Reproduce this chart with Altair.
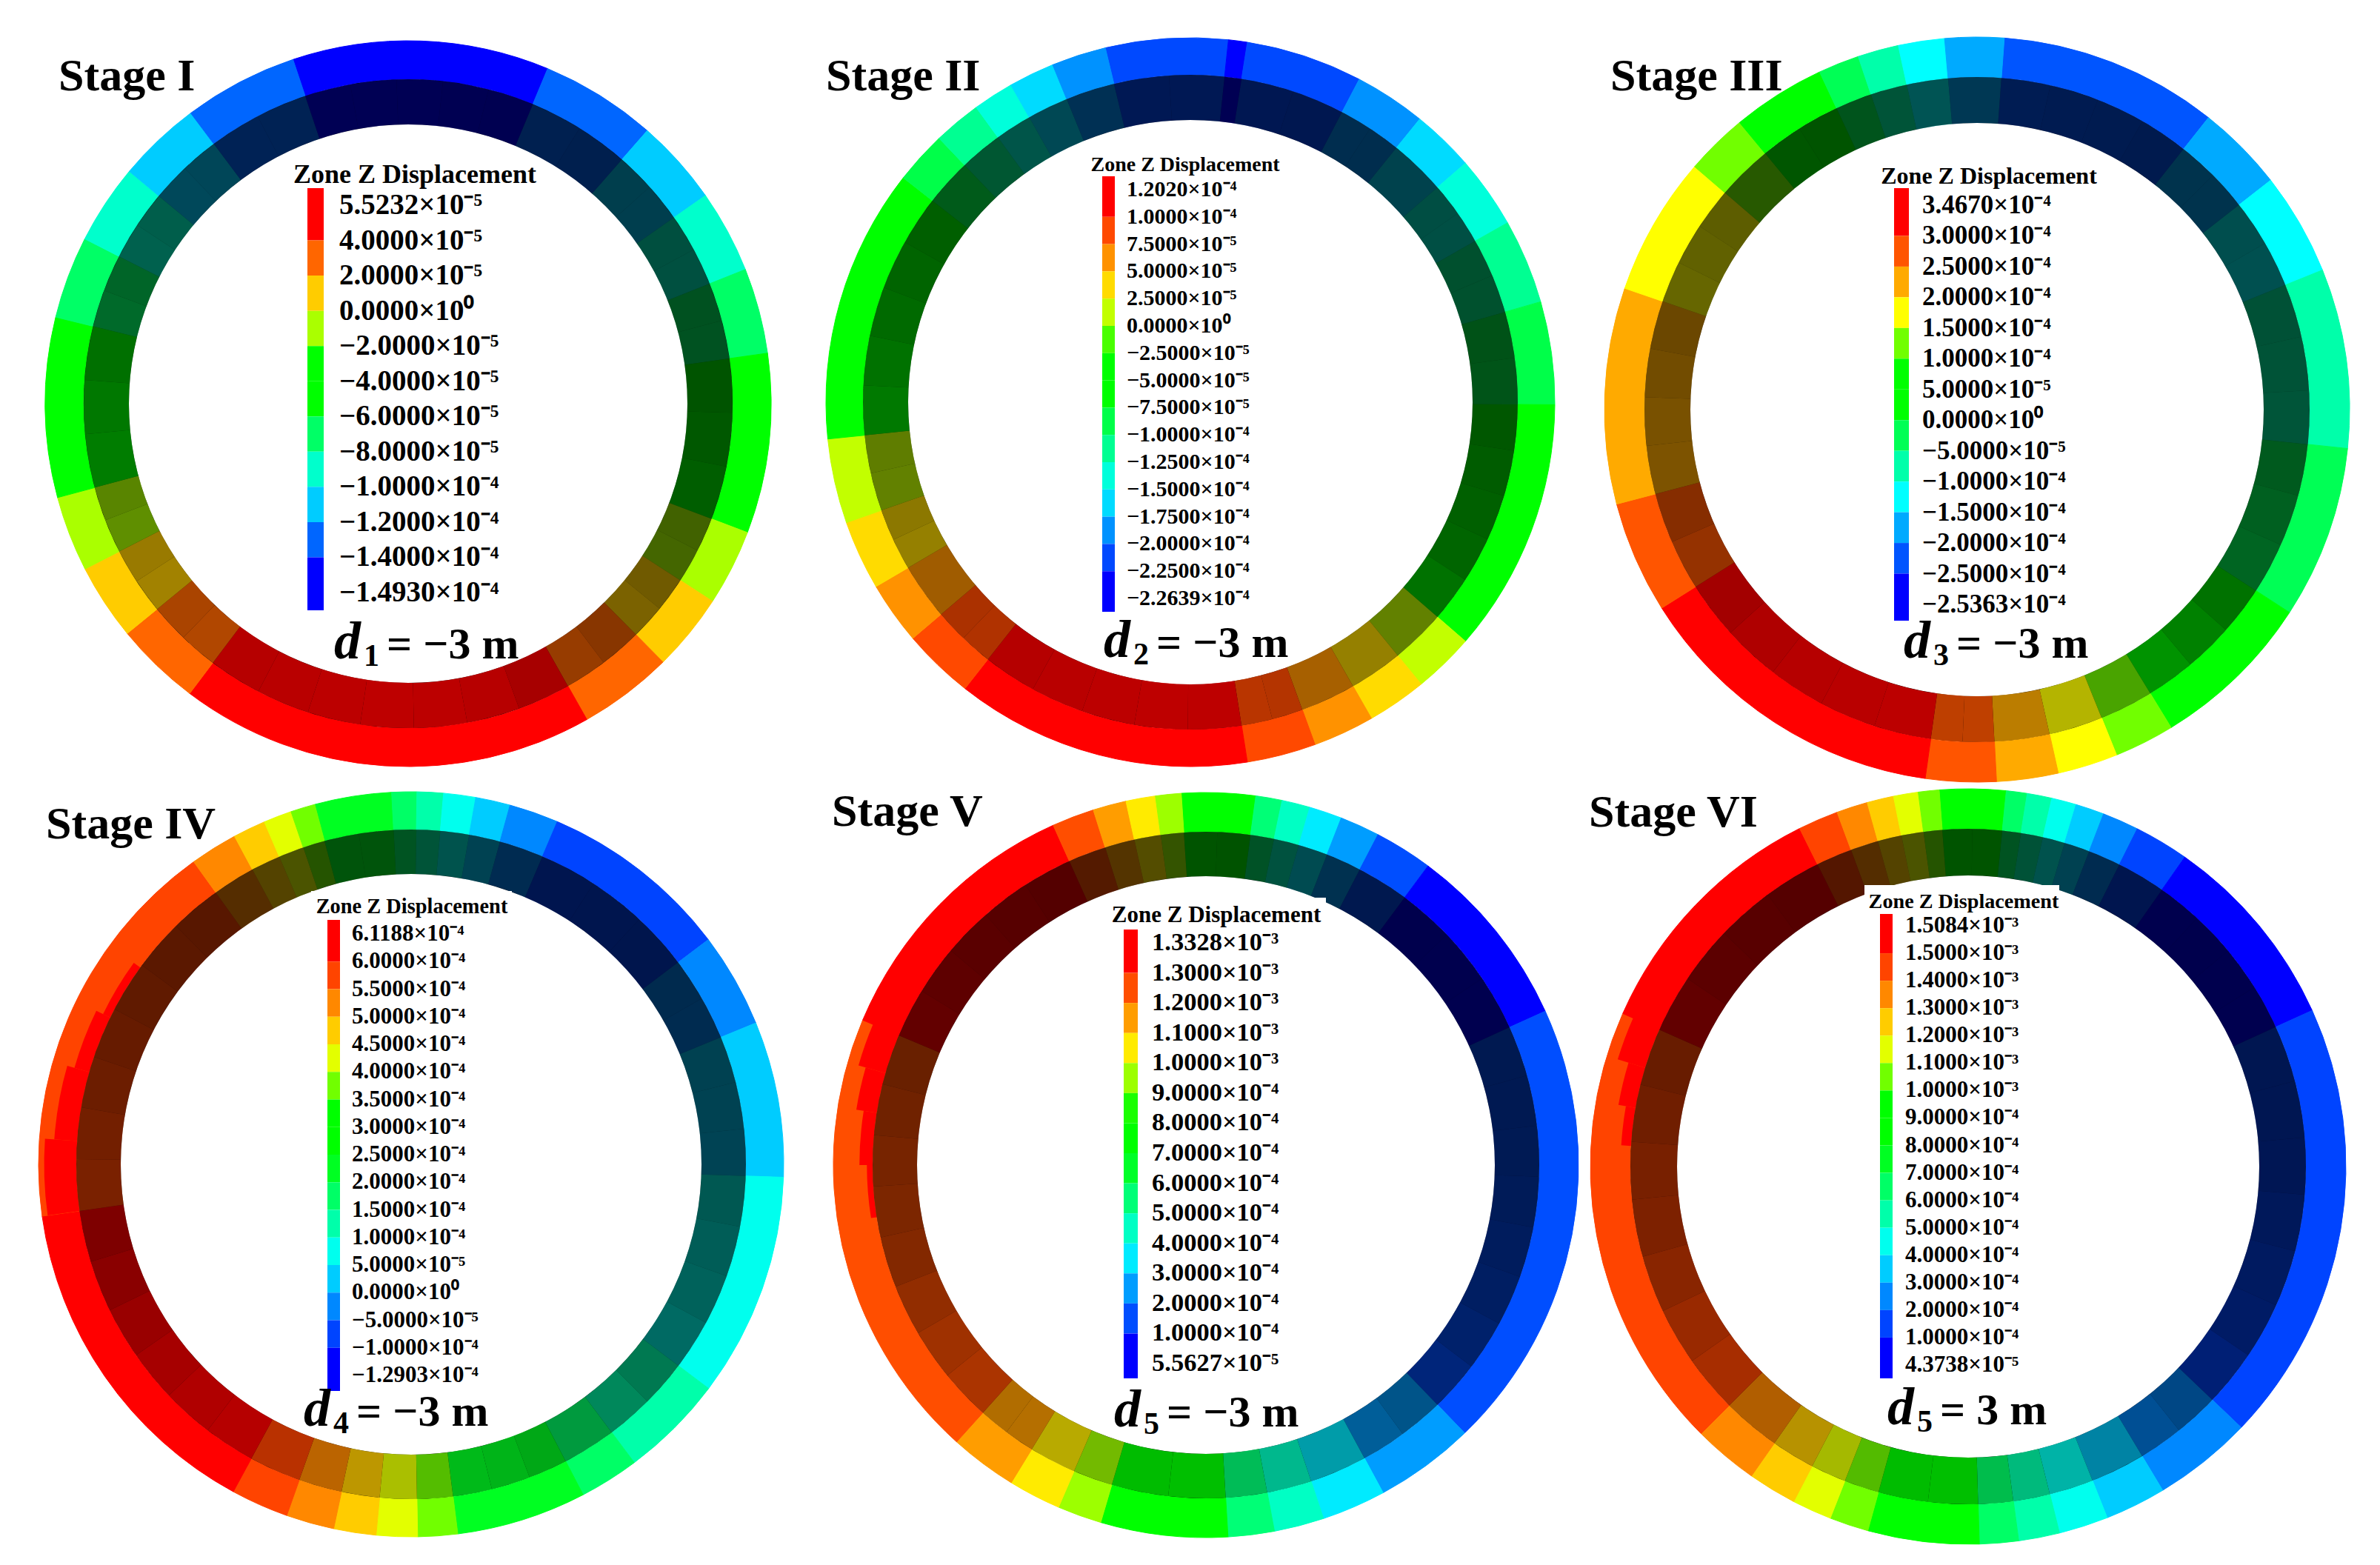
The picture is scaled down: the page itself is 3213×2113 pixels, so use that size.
import altair as alt
import numpy as np
import pandas as pd

STAGES = ["Stage I", "Stage II", "Stage III", "Stage IV", "Stage V", "Stage VI"]
SUBS = ["1", "2", "3", "4", "5", "5"]
RESTS = ["= \u22123 m", "= \u22123 m", "= \u22123 m", "= \u22123 m", "= \u22123 m", "= 3 m"]

LABELS_1 = ["5.5232×10⁻⁵", "4.0000×10⁻⁵", "2.0000×10⁻⁵", "0.0000×10⁰", "−2.0000×10⁻⁵", "−4.0000×10⁻⁵",
            "−6.0000×10⁻⁵", "−8.0000×10⁻⁵", "−1.0000×10⁻⁴", "−1.2000×10⁻⁴", "−1.4000×10⁻⁴", "−1.4930×10⁻⁴"]
LABELS_2 = ["1.2020×10⁻⁴", "1.0000×10⁻⁴", "7.5000×10⁻⁵", "5.0000×10⁻⁵", "2.5000×10⁻⁵", "0.0000×10⁰",
            "−2.5000×10⁻⁵", "−5.0000×10⁻⁵", "−7.5000×10⁻⁵", "−1.0000×10⁻⁴", "−1.2500×10⁻⁴", "−1.5000×10⁻⁴",
            "−1.7500×10⁻⁴", "−2.0000×10⁻⁴", "−2.2500×10⁻⁴", "−2.2639×10⁻⁴"]
LABELS_3 = ["3.4670×10⁻⁴", "3.0000×10⁻⁴", "2.5000×10⁻⁴", "2.0000×10⁻⁴", "1.5000×10⁻⁴", "1.0000×10⁻⁴",
            "5.0000×10⁻⁵", "0.0000×10⁰", "−5.0000×10⁻⁵", "−1.0000×10⁻⁴", "−1.5000×10⁻⁴", "−2.0000×10⁻⁴",
            "−2.5000×10⁻⁴", "−2.5363×10⁻⁴"]
LABELS_4 = ["6.1188×10⁻⁴", "6.0000×10⁻⁴", "5.5000×10⁻⁴", "5.0000×10⁻⁴", "4.5000×10⁻⁴", "4.0000×10⁻⁴",
            "3.5000×10⁻⁴", "3.0000×10⁻⁴", "2.5000×10⁻⁴", "2.0000×10⁻⁴", "1.5000×10⁻⁴", "1.0000×10⁻⁴",
            "5.0000×10⁻⁵", "0.0000×10⁰", "−5.0000×10⁻⁵", "−1.0000×10⁻⁴", "−1.2903×10⁻⁴"]
LABELS_5 = ["1.3328×10⁻³", "1.3000×10⁻³", "1.2000×10⁻³", "1.1000×10⁻³", "1.0000×10⁻³", "9.0000×10⁻⁴",
            "8.0000×10⁻⁴", "7.0000×10⁻⁴", "6.0000×10⁻⁴", "5.0000×10⁻⁴", "4.0000×10⁻⁴", "3.0000×10⁻⁴",
            "2.0000×10⁻⁴", "1.0000×10⁻⁴", "5.5627×10⁻⁵"]
LABELS_6 = ["1.5084×10⁻³", "1.5000×10⁻³", "1.4000×10⁻³", "1.3000×10⁻³", "1.2000×10⁻³", "1.1000×10⁻³",
            "1.0000×10⁻³", "9.0000×10⁻⁴", "8.0000×10⁻⁴", "7.0000×10⁻⁴", "6.0000×10⁻⁴", "5.0000×10⁻⁴",
            "4.0000×10⁻⁴", "3.0000×10⁻⁴", "2.0000×10⁻⁴", "1.0000×10⁻⁴", "4.3738×10⁻⁵"]

# Contour band of each ring segment (0 = lowest legend band), clockwise,
# and the clock angle (degrees from the top) where each segment ends.
BANDS_1 = [0, 1, 2, 3, 4, 5, 7, 8, 9, 10, 9, 8, 7, 5, 4, 3, 2, 1]
ENDS_1 = [22.6, 41.2, 55, 68.3, 82, 110.8, 123, 135.4, 150.5, 217, 230.7, 242.9, 255, 283.8, 297, 309.8, 323.2, 341.5]
BANDS_2 = [1, 0, 1, 2, 3, 4, 5, 6, 7, 10, 11, 12, 13, 14, 13, 12, 11, 10, 8, 6, 5, 4, 3, 2]
ENDS_2 = [6, 9, 27.6, 39, 49, 60.5, 74, 90.4, 131, 140.7, 150.2, 160, 171, 218.2, 229.6, 239.6, 250.7, 264.2, 308, 316.4, 324, 330.5, 337.8, 346.5]
BANDS_3 = [1, 2, 3, 4, 5, 6, 8, 9, 10, 11, 12, 11, 10, 9, 8, 6, 5, 4, 3, 2]
ENDS_3 = [38.4, 52, 68, 96, 123, 148.6, 158, 167.4, 177, 188, 237.8, 255.3, 289, 310.7, 320.4, 335, 341.4, 347.8, 355, 364.2]
BANDS_4 = [7, 6, 5, 4, 3, 2, 1, 2, 3, 4, 5, 6, 7, 10, 11, 12, 13, 14, 15, 14, 13, 12, 11, 10]
ENDS_4 = [357, 360.9, 365, 370, 375.4, 383.1, 412.9, 427.7, 452, 487, 503.2, 512.5, 532.8, 539, 545.4, 552, 559.5, 568.5, 622, 684.3, 691.7, 696.8, 701.2, 705]
BANDS_5 = [7, 5, 4, 3, 2, 1, 0, 1, 2, 3, 4, 5, 7, 9, 10, 11, 12, 13, 12, 11, 10, 9]
ENDS_5 = [7.7, 11.8, 16.2, 21.3, 27.5, 36.6, 65.6, 136, 151.6, 161.6, 169.4, 176.6, 196.4, 203.3, 211.5, 222, 292.9, 335.8, 342.4, 347.6, 352.2, 356.2]
BANDS_6 = [8, 6, 5, 4, 3, 2, 1, 0, 1, 2, 3, 4, 5, 6, 8, 10, 11, 12, 13, 14, 15, 14, 13, 12, 11, 10]
ENDS_6 = [5.8, 9, 12.8, 16.6, 21, 26.6, 35, 65.6, 133.7, 149, 158.4, 166, 172.3, 178.3, 195.4, 201.4, 207.5, 215, 225, 293.9, 333.5, 339.7, 344.5, 348.6, 352.4, 355.6]

# Narrow contour wedges that lie along the inner part of the bright ring.
STRIP_PANELS = [3, 3, 3, 3, 4, 4, 4, 4, 5, 5, 5]
STRIP_BANDS = [15, 15, 15, 15, 13, 13, 13, 13, 15, 15, 15]
STRIP_STARTS = [262, 274, 286, 296, 261, 270, 279, 286, 273.5, 280, 287]
STRIP_ENDS = [274, 286, 296, 306, 270, 279, 286, 293, 280, 287, 294]

# ---- layout and style (reference pixels) ----
W, H = 3190, 2095
CENTERS = [(551, 545), (1607, 543), (2669, 553), (555, 1572), (1628, 1573), (2657, 1575)]
R_OUT = [490, 492, 503, 503, 503, 510]
R_MID = [438, 442, 449, 452, 450, 456]
R_IN = [377, 381, 387, 392, 390, 393]
STRIP_FRAC = [.985, .96, .94, .92, .91, .93, .95, .97, .92, .94, .97]
BAR_X = [(415, 437), (1488, 1505), (2557, 2577), (442, 459), (1517, 1536), (2538, 2555)]
BAR_Y = [(254, 824), (238, 826), (254, 838), (1242, 1878), (1255, 1861), (1234, 1861)]
LABEL_X = [458, 1521, 2595, 475, 1555, 2572]
LABEL_Y = [(277, 800), (256, 808), (277, 816), (1261, 1857), (1273, 1841), (1250, 1843)]
LABEL_FS = [39, 30, 35, 31, 34.5, 31]
HEAD_XY = [(560, 236), (1600, 223), (2685, 238), (556, 1224), (1642, 1236), (2651, 1218)]
HEAD_FS = [36, 28, 32, 28.4, 31, 28.2]
STAGE_XY = [(79, 103), (1115, 103), (2174, 103), (62, 1113), (1123, 1096), (2145, 1097)]
FORM_XY = [(451, 889), (1490, 887), (2570, 888), (410, 1925), (1504, 1926), (2548, 1923)]
PATCH = [(420, 691, 1203, 1240), (1497, 1790, 1212, 1250), (2517, 2780, 1195, 1232)]
SHADE_ANG = [0, 45, 90, 120, 135, 150, 165, 180, 210, 225, 240, 255, 270, 285, 300, 315, 330, 360]
SHADE_VAL = [.33, .30, .33, .40, .50, .62, .72, .75, .72, .68, .60, .50, .47, .42, .38, .35, .33, .33]
RAMP_T = [0, .25, .5, .6, .75, 1]
RAMP_C = ["#0000ff", "#00ffff", "#00ff00", "#00ff00", "#ffff00", "#ff0000"]
SERIF = "Liberation Serif"

ALL_LABELS = [LABELS_1, LABELS_2, LABELS_3, LABELS_4, LABELS_5, LABELS_6]
ALL_BANDS = [BANDS_1, BANDS_2, BANDS_3, BANDS_4, BANDS_5, BANDS_6]
ALL_ENDS = [ENDS_1, ENDS_2, ENDS_3, ENDS_4, ENDS_5, ENDS_6]

outer, inner, base, bars, labels, heads, stages, dees, subs, rests = ([] for _ in range(10))
for p in range(6):
    cx, cy = CENTERS[p]
    labs = ALL_LABELS[p]
    nb = len(labs) - 1
    bands, ends = ALL_BANDS[p], ALL_ENDS[p]
    prev = ends[-1] - 360
    base.append(dict(x=cx, y=cy, t=0.0, t2=2 * np.pi, r=R_IN[p], r2=R_MID[p]))
    for b, e in zip(bands, ends):
        f = b / (nb - 1)
        outer.append(dict(x=cx, y=cy, t=np.radians(prev), t2=np.radians(e), r=R_MID[p], r2=R_OUT[p], f=f))
        n = max(1, int(np.ceil((e - prev) / 10)))
        edges = np.linspace(prev, e, n + 1)
        for a0, a1 in zip(edges[:-1], edges[1:]):
            shade = float(np.interp(((a0 + a1) / 2) % 360, SHADE_ANG, SHADE_VAL))
            inner.append(dict(x=cx, y=cy, t=np.radians(a0), t2=np.radians(a1), r=R_IN[p], r2=R_MID[p], f=f, o=shade))
        prev = e
    ly0, ly1 = LABEL_Y[p]
    ys = np.linspace(ly0, ly1, len(labs))
    cuts = [BAR_Y[p][0]] + list(ys[1:-1]) + [BAR_Y[p][1]]
    for k in range(nb):
        bars.append(dict(x=BAR_X[p][0], x2=BAR_X[p][1], y=cuts[k], y2=cuts[k + 1], f=1 - k / (nb - 1)))
    for s, y in zip(labs, ys):
        labels.append(dict(x=LABEL_X[p], y=y, s=s, fs=LABEL_FS[p]))
    heads.append(dict(x=HEAD_XY[p][0], y=HEAD_XY[p][1], s="Zone Z Displacement", fs=HEAD_FS[p]))
    stages.append(dict(x=STAGE_XY[p][0], y=STAGE_XY[p][1], s=STAGES[p]))
    fx, fy = FORM_XY[p]
    dees.append(dict(x=fx, y=fy, s="d"))
    subs.append(dict(x=fx + 40, y=fy + 10, s=SUBS[p]))
    rests.append(dict(x=fx + 71, y=fy, s=RESTS[p]))

strips = []
for i, p in enumerate(STRIP_PANELS):
    strips.append(dict(x=CENTERS[p][0], y=CENTERS[p][1], t=np.radians(STRIP_STARTS[i]), t2=np.radians(STRIP_ENDS[i]),
                       r=R_MID[p], r2=R_OUT[p] * STRIP_FRAC[i],
                       f=STRIP_BANDS[i] / (len(ALL_LABELS[p]) - 2)))

patches = [dict(x=a, x2=b, y=c, y2=d) for a, b, c, d in PATCH]

X = alt.X("x:Q", scale=alt.Scale(domain=[8, 8 + W], nice=False, zero=False), axis=None)
Y = alt.Y("y:Q", scale=alt.Scale(domain=[8, 8 + H], nice=False, zero=False, reverse=True), axis=None)
ramp = alt.Scale(domain=RAMP_T, range=RAMP_C, interpolate="rgb")
COL = alt.Color("f:Q", scale=ramp, legend=None)
STK = alt.Stroke("f:Q", scale=ramp, legend=None)
arc_enc = dict(x=X, y=Y,
               theta=alt.Theta("t:Q", scale=None, stack=False), theta2=alt.Theta2("t2:Q"),
               radius=alt.Radius("r:Q", scale=None), radius2=alt.Radius2("r2:Q"))


def df(rows):
    return alt.Data(values=pd.DataFrame(rows).to_dict("records"))


def text_layer(rows, **kw):
    enc = dict(x=X, y=Y, text=alt.Text("s:N"))
    if "fs" in rows[0]:
        enc["size"] = alt.Size("fs:Q", scale=None, legend=None)
    return alt.Chart(df(rows)).mark_text(font=SERIF, color="#000000", **kw).encode(**enc)


layers = [
    alt.Chart(df(outer)).mark_arc(strokeWidth=1).encode(color=COL, stroke=STK, **arc_enc),
    alt.Chart(df(strips)).mark_arc().encode(color=COL, **arc_enc),
    alt.Chart(df(base)).mark_arc(color="#000000").encode(**arc_enc),
    alt.Chart(df(inner)).mark_arc().encode(color=COL, opacity=alt.Opacity("o:Q", scale=None, legend=None), **arc_enc),
    alt.Chart(df(patches)).mark_rect(color="#ffffff").encode(x=X, x2=alt.X2("x2:Q"), y=Y, y2=alt.Y2("y2:Q")),
    alt.Chart(df(bars)).mark_rect().encode(x=X, x2=alt.X2("x2:Q"), y=Y, y2=alt.Y2("y2:Q"), color=COL),
    text_layer(labels, align="left", baseline="middle", fontWeight="bold"),
    text_layer(heads, align="center", baseline="middle", fontWeight="bold"),
    text_layer(stages, align="left", baseline="middle", fontWeight="bold", fontSize=62),
    text_layer(dees, align="left", baseline="alphabetic", fontWeight="bold", fontStyle="italic", fontSize=72),
    text_layer(subs, align="left", baseline="alphabetic", fontWeight="bold", fontSize=42),
    text_layer(rests, align="left", baseline="alphabetic", fontWeight="bold", fontSize=60),
]

chart = (
    alt.layer(*layers)
    .properties(width=W, height=H, padding=0, autosize=alt.AutoSizeParams(type="none"), background="#ffffff")
    .configure_view(stroke=None)
)
chart.save("out.html", embed_options={"renderer": "svg", "actions": False})
